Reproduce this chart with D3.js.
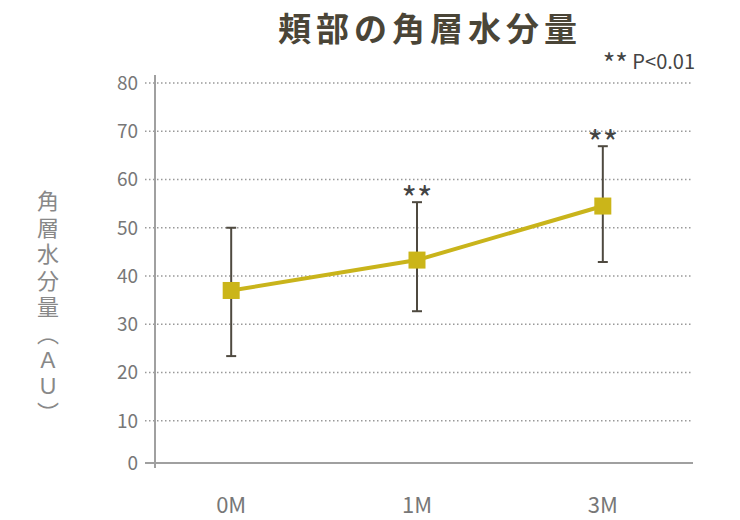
<!DOCTYPE html>
<html>
<head>
<meta charset="utf-8">
<script src="https://cdn.jsdelivr.net/npm/d3@7"></script>
<style>
  body { margin: 0; background: #fff; }
  text { font-family: "Noto Sans CJK JP", "Noto Sans", sans-serif; }
</style>
</head>
<body>
<div id="chart"></div>
<script>
var months = ["0M", "1M", "3M"];
var means = [37.0, 43.3, 54.5];
var upper = [50.0, 55.3, 66.9];
var lower = [23.4, 32.7, 42.9];
var stars = ["", "**", "**"];
var yTicks = [10, 20, 30, 40, 50, 60, 70, 80];

var width = 740, height = 520;

var svg = d3.select("#chart").append("svg")
    .attr("width", width)
    .attr("height", height);

var x = d3.scalePoint().domain(months).range([155, 679]).padding(0.41);
var y = d3.scaleLinear().domain([0, 80]).range([469, 83]);
var baseY = 463;

// title
svg.append("text")
    .attr("x", 430).attr("y", 41)
    .attr("text-anchor", "middle")
    .style("font-size", "33px").style("font-weight", "bold")
    .style("letter-spacing", "5px")
    .attr("fill", "#4a4537")
    .text("頬部の角層水分量");

var note = svg.append("text")
    .attr("x", 695).attr("y", 69)
    .attr("text-anchor", "end")
    .style("font-size", "20px")
    .attr("fill", "#444");
note.append("tspan").style("font-size", "27px").attr("dy", 5).text("**");
note.append("tspan").attr("dy", -5).text(" P<0.01");

// grid
svg.selectAll(".grid")
  .data(yTicks)
  .enter().append("line")
  .attr("x1", 145).attr("x2", 693)
  .attr("y1", function(d) { return y(d); })
  .attr("y2", function(d) { return y(d); })
  .attr("stroke", "#999")
  .attr("stroke-width", 1.5)
  .attr("stroke-dasharray", "1.5,2.5");

// axes
svg.append("line")
    .attr("x1", 155).attr("x2", 155).attr("y1", 75).attr("y2", 468)
    .attr("stroke", "#a0a0a0").attr("stroke-width", 2);
svg.append("line")
    .attr("x1", 145).attr("x2", 693).attr("y1", baseY).attr("y2", baseY)
    .attr("stroke", "#a0a0a0").attr("stroke-width", 2);

// y tick labels
svg.selectAll(".ylab")
  .data(yTicks)
  .enter().append("text")
  .attr("x", 138)
  .attr("y", function(d) { return y(d); })
  .attr("dy", "0.36em")
  .attr("text-anchor", "end")
  .style("font-size", "19px")
  .attr("fill", "#777")
  .text(function(d) { return d; });
svg.append("text")
    .attr("x", 138).attr("y", baseY).attr("dy", "0.36em")
    .attr("text-anchor", "end")
    .style("font-size", "19px").attr("fill", "#777")
    .text("0");

// x tick labels
svg.selectAll(".xlab")
  .data(months)
  .enter().append("text")
  .attr("x", function(d) { return x(d); })
  .attr("y", 513)
  .attr("text-anchor", "middle")
  .style("font-size", "22px")
  .attr("fill", "#777")
  .text(function(d) { return d; });

// y axis title
svg.append("text")
    .attr("x", 48).attr("y", 190)
    .style("writing-mode", "vertical-rl")
    .style("text-orientation", "upright")
    .style("font-size", "22px")
    .attr("fill", "#888")
    .attr("letter-spacing", "4.5px")
    .text("角層水分量（ＡＵ）");

// error bars
var eb = svg.selectAll(".eb")
  .data(months)
  .enter().append("g");
eb.append("line")
  .attr("x1", function(d) { return x(d); })
  .attr("x2", function(d) { return x(d); })
  .attr("y1", function(d, i) { return y(upper[i]); })
  .attr("y2", function(d, i) { return y(lower[i]); })
  .attr("stroke", "#4f4a40").attr("stroke-width", 2);
[upper, lower].forEach(function(arr) {
  eb.append("line")
    .attr("x1", function(d) { return x(d) - 5; })
    .attr("x2", function(d) { return x(d) + 5; })
    .attr("y1", function(d, i) { return y(arr[i]); })
    .attr("y2", function(d, i) { return y(arr[i]); })
    .attr("stroke", "#4f4a40").attr("stroke-width", 2);
});

// line
var line = d3.line()
  .x(function(d, i) { return x(months[i]); })
  .y(function(d) { return y(d); });
svg.append("path")
    .datum(means)
    .attr("d", line)
    .attr("fill", "none")
    .attr("stroke", "#c9b41b")
    .attr("stroke-width", 4);

svg.selectAll(".pt")
  .data(means)
  .enter().append("rect")
  .attr("x", function(d, i) { return x(months[i]) - 8.5; })
  .attr("y", function(d) { return y(d) - 8.5; })
  .attr("width", 17).attr("height", 17)
  .attr("fill", "#cbb519");

// significance stars
svg.selectAll(".star")
  .data(stars)
  .enter().append("text")
  .attr("x", function(d, i) { return x(months[i]); })
  .attr("y", function(d, i) { return y(upper[i]) + 9; })
  .attr("text-anchor", "middle")
  .style("font-size", "33px")
  .attr("fill", "#444")
  .text(function(d) { return d; });
</script>
</body>
</html>
